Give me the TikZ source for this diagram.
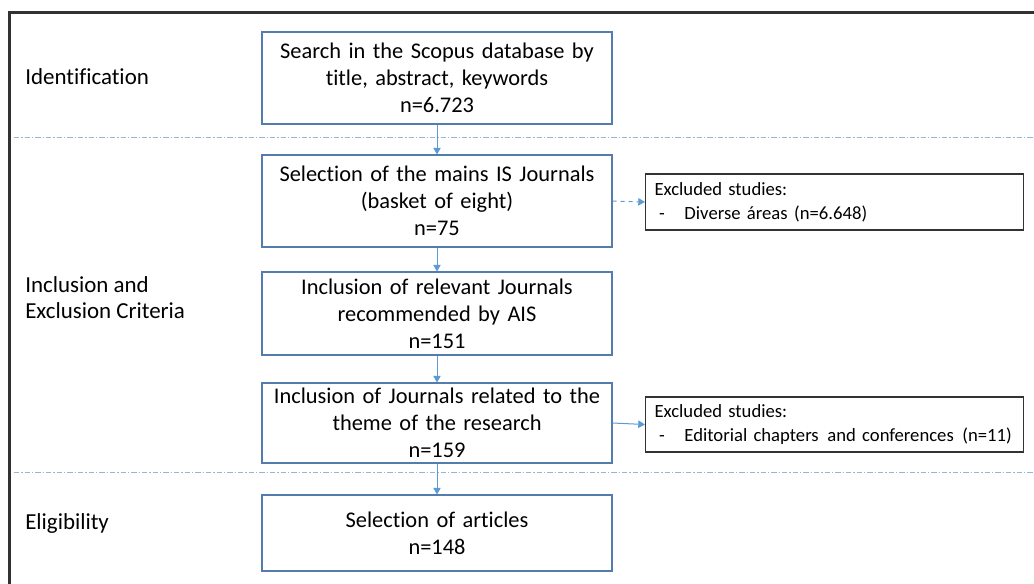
\documentclass[tikz,border=0pt]{standalone}
\usepackage{fontspec}
\setmainfont[Ligatures=NoCommon]{Carlito}
\usetikzlibrary{arrows.meta}
\definecolor{boxline}{RGB}{84,124,172}
\definecolor{flow}{RGB}{91,155,213}
\definecolor{sep}{RGB}{140,185,228}
\definecolor{frame}{RGB}{50,50,50}
\tikzset{
  stagebox/.style={draw=boxline, line width=0.8pt, minimum width=262.5pt,
    text width=258pt, align=center, inner sep=0pt,
    font=\fontsize{16.8}{20.3}\selectfont},
  exclbox/.style={draw=black!80, line width=0.8pt, minimum width=282.75pt,
    text width=270pt, align=left, inner xsep=6.75pt, inner ysep=0pt,
    font=\fontsize{14}{18}\selectfont},
  phase/.style={anchor=west, align=left, inner sep=0pt,
    font=\fontsize{17.2}{19.5}\selectfont},
  flowarrow/.style={draw=flow, line width=0.75pt,
    -{Triangle[length=5pt,width=5.5pt]}},
  separator/.style={draw=sep, line width=0.75pt,
    dash pattern=on 4pt off 1.5pt on 1pt off 1.5pt}
}
\begin{document}
\begin{tikzpicture}[x=0.75pt,y=-0.75pt]
\useasboundingbox (0,0) rectangle (1034,583);
\clip (0,0) rectangle (1034,583);

% outer frame (open to the right and bottom)
\draw[frame, line width=1.9pt] (9.5,590) -- (9.5,12.5) -- (1040,12.5);

% phase separators
\coordinate (s1a) at (14,137);
\coordinate (s1b) at (1034,137);
\coordinate (s2a) at (14,472);
\coordinate (s2b) at (1034,472);
\draw[separator] (s1a) -- (s1b);
\draw[separator] (s2a) -- (s2b);

% phase labels
\node[phase] (pid) at (25,77) {Identification};
\node[phase] (pinc) at (25,298) {Inclusion and\\Exclusion Criteria};
\node[phase] (pelig) at (25,523) {Eligibility};

% main flow
\node[stagebox, minimum height=69pt] (b1) at (437,78)
  {Search in the Scopus database by\\title, abstract, keywords\\n=6.723};
\node[stagebox, minimum height=69pt] (b2) at (437,201)
  {Selection of the mains IS Journals\\(basket of eight)\\n=75};
\node[stagebox, minimum height=62.25pt] (b3) at (437,313.5)
  {Inclusion of relevant Journals\\recommended by AIS\\n=151};
\node[stagebox, minimum height=60pt] (b4) at (437,423)
  {Inclusion of Journals related to the\\theme of the research\\n=159};
\node[stagebox, minimum height=57pt] (b5) at (437,533)
  {Selection of articles\\n=148};

% excluded records
\node[exclbox, minimum height=42pt] (e1) at (834.5,202)
  {Excluded studies:\\\hspace*{3.5pt}\makebox[19pt][l]{-}Diverse áreas\hspace{5pt}(n=6.648)};
\node[exclbox, minimum height=41.25pt] (e2) at (834.5,424.5)
  {Excluded studies:\\\hspace*{3.5pt}\makebox[19pt][l]{-}Editorial chapters\hspace{6.5pt}and conferences\hspace{6.5pt}(n=11)};

% connectors
\draw[flowarrow] (b1) -- (b2);
\draw[flowarrow] (b2) -- (b3);
\draw[flowarrow] (b3) -- (b4);
\draw[flowarrow] (b4) -- (b5);
\draw[flowarrow, dashed] (b2.east) -- (e1.west);
\draw[flowarrow] (b4.east) -- (e2.west);
\end{tikzpicture}
\end{document}
